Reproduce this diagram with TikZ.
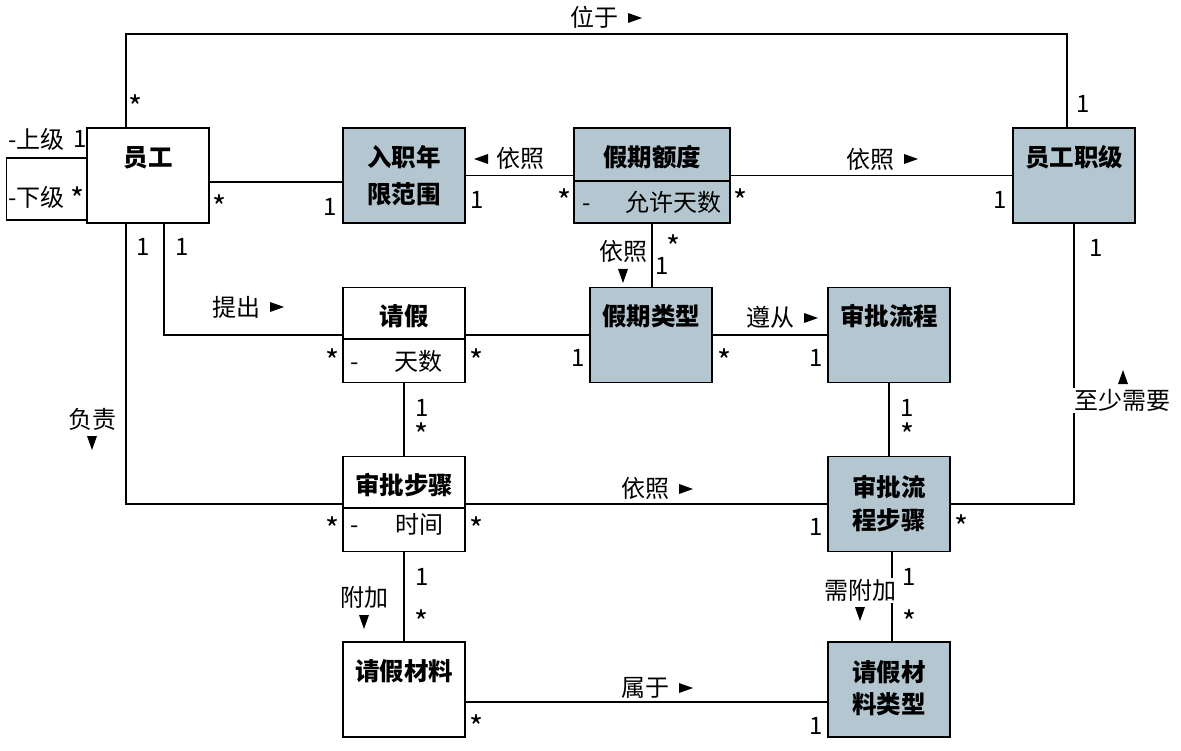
\documentclass[tikz,border=0pt]{standalone}
\usepackage{fontspec}
\setmainfont{Noto Sans CJK SC}
\definecolor{cls}{RGB}{180,199,208}
\tikzset{
  box/.style={draw, line width=1.3pt, minimum width=122pt, minimum height=95pt, inner sep=0pt},
  gbox/.style={box, fill=cls},
  conn/.style={line width=1.3pt},
  lab/.style={font=\fontsize{24}{28}\selectfont, inner sep=0pt, anchor=base},
  star/.style={font=\fontsize{30}{34}\selectfont, inner sep=0pt, anchor=base},
  ttl/.style={lab, font=\fontsize{24.5}{28}\selectfont\bfseries},
  wlab/.style={lab, fill=white, inner sep=1.5pt},
  tri/.pic={\fill (-7,-5) -- (7,0) -- (-7,5) -- cycle;}
}
\begin{document}
\begin{tikzpicture}[x=1pt,y=-1pt]
\useasboundingbox (0,0) rectangle (1181,751);
% boxes
\node[box]  (yg)   at (148,175.5) {};
\node[gbox] (rz)   at (404,175.5) {};
\node[gbox, minimum width=156pt] (jq) at (652,175.5) {};
\node[gbox] (zj)   at (1074,175.5) {};
\node[box]  (qj)   at (404,335) {};
\node[gbox] (lx)   at (651,335) {};
\node[gbox] (lc)   at (889,335) {};
\node[box]  (bz)   at (404,504) {};
\node[gbox] (lcbz) at (889,504) {};
\node[box]  (cl)   at (404,689.5) {};
\node[gbox] (cllx) at (889,689.5) {};
% dividers
\draw[conn] (jq.west |- 0,181) -- (jq.east |- 0,181);
\draw[conn] (qj.west |- 0,339) -- (qj.east |- 0,339);
\draw[conn] (bz.west |- 0,508) -- (bz.east |- 0,508);
% titles
\node[ttl] (t1) at (148,166.5) {员工};
\node[ttl] (t2a) at (404,166.5) {入职年};
\node[ttl] (t2b) at (404,203.5) {限范围};
\node[ttl] (t3) at (652,166.5) {假期额度};
\node[ttl] (t4) at (1074,166.5) {员工职级};
\node[ttl] (t5) at (404,325.5) {请假};
\node[ttl] (t6) at (651,325.5) {假期类型};
\node[ttl] (t7) at (889,325.5) {审批流程};
\node[ttl] (t8) at (404,494.5) {审批步骤};
\node[ttl] (t9a) at (889,496.5) {审批流};
\node[ttl] (t9b) at (889,529.5) {程步骤};
\node[ttl] (t10) at (404,680.5) {请假材料};
\node[ttl] (t11a) at (889,681.5) {请假材};
\node[ttl] (t11b) at (889,713.5) {料类型};
% attributes
\node[lab] (a1m) at (587,211.5) {-};
\node[lab, anchor=base west] (a1) at (625,211.5) {允许天数};
\node[lab] (a2m) at (355,370.5) {-};
\node[lab, anchor=base west] (a2) at (394,370.5) {天数};
\node[lab] (a3m) at (355,533.5) {-};
\node[lab, anchor=base west] (a3) at (395,533.5) {时间};
% connectors
\coordinate (ygT) at ([xshift=-22pt]yg.north);
\coordinate (zjT) at ([xshift=-7pt]zj.north);
\draw[conn] (ygT) -- (ygT |- 0,34) -| (zjT);
\draw[conn] ([yshift=17.5pt]yg.west) -- ++(-80,0) |- ([yshift=-44.5pt]yg.west);
\draw[conn] ([yshift=-6.5pt]yg.east) -- ([yshift=-6.5pt]rz.west);
\draw[conn] (rz.east) -- (jq.west);
\draw[conn] (jq.east) -- (zj.west);
\draw[conn] (jq.south) -- (jq.south |- lx.north);
\draw[conn] ([xshift=16pt]yg.south) |- (qj.west);
\draw[conn] (qj.east) -- (lx.west);
\draw[conn] (lx.east) -- (lc.west);
\draw[conn] (qj.south) -- (bz.north);
\draw[conn] ([xshift=-22pt]yg.south) |- (bz.west);
\draw[conn] (bz.east) -- (lcbz.west);
\draw[conn] (lc.south) -- (lcbz.north);
\draw[conn] (lcbz.east) -| (zj.south);
\draw[conn] (bz.south) -- (cl.north);
\draw[conn] ([xshift=3pt]lcbz.south) -- ([xshift=3pt]cllx.north);
\draw[conn] ([yshift=-12.5pt]cl.east) -- ([yshift=-12.5pt]cllx.west);
% association labels
\node[lab] (l1) at (594,26.5) {位于};
\pic at (635,18) {tri};
\node[lab] (l2) at (520,167.5) {依照};
\pic[rotate=180] at (481,159) {tri};
\node[lab] (l3) at (870,168.5) {依照};
\pic at (911,159) {tri};
\node[lab] (l4) at (623,260.5) {依照};
\pic[rotate=-90] at (623,276) {tri};
\node[lab] (l5) at (236,316.5) {提出};
\pic at (277,307) {tri};
\node[lab] (l6) at (770,326.5) {遵从};
\pic at (811,318) {tri};
\node[lab] (l7) at (645,497.5) {依照};
\pic at (686,489) {tri};
\node[lab] (l8) at (645,696.5) {属于};
\pic at (686,688) {tri};
\node[lab] (l9) at (92,428.5) {负责};
\pic[rotate=-90] at (92,443) {tri};
\node[lab] (l10) at (364,606.5) {附加};
\pic[rotate=-90] at (364,622) {tri};
\node[wlab] (l11) at (860,599.5) {需附加};
\pic[rotate=-90] at (860,614) {tri};
\node[wlab] (l12) at (1122,409.5) {至少需要};
\pic[rotate=90] at (1123,377) {tri};
% self-association role labels
\node[lab] (r1) at (36.5,148.5) {-上级};
\node[lab] (r1m) at (80,147.5) {1};
\node[wlab] (r2) at (36.5,206.5) {-下级};
\node[star] (r2m) at (78,211) {*};
% multiplicities
\node[star] (m1) at (136,119) {*};
\node[lab] (m2) at (1083,112.5) {1};
\node[star] (m3) at (220,219) {*};
\node[lab] (m4) at (330,215.5) {1};
\node[lab] (m5) at (477,208.5) {1};
\node[star] (m6) at (564,213) {*};
\node[star] (m7) at (740,213) {*};
\node[lab] (m8) at (1000,208.5) {1};
\node[star] (m9) at (673,259) {*};
\node[lab] (m10) at (662,274.5) {1};
\node[lab] (m11) at (143,255.5) {1};
\node[lab] (m12) at (182,255.5) {1};
\node[lab] (m13) at (1096,256.5) {1};
\node[star] (m14) at (333,372) {*};
\node[star] (m15) at (476,372) {*};
\node[lab] (m16) at (578,366.5) {1};
\node[star] (m17) at (724,372) {*};
\node[lab] (m18) at (816,366.5) {1};
\node[lab] (m19) at (422,416.5) {1};
\node[star] (m20) at (422,446) {*};
\node[lab] (m21) at (907,416.5) {1};
\node[star] (m22) at (907,446) {*};
\node[star] (m23) at (333,540) {*};
\node[star] (m24) at (476,540) {*};
\node[lab] (m25) at (816,535.5) {1};
\node[star] (m26) at (961,538) {*};
\node[lab] (m27) at (422,585.5) {1};
\node[star] (m28) at (422,633) {*};
\node[lab] (m29) at (909,585.5) {1};
\node[star] (m30) at (909,633) {*};
\node[star] (m31) at (476,738) {*};
\node[lab] (m32) at (816,734.5) {1};
\end{tikzpicture}
\end{document}
